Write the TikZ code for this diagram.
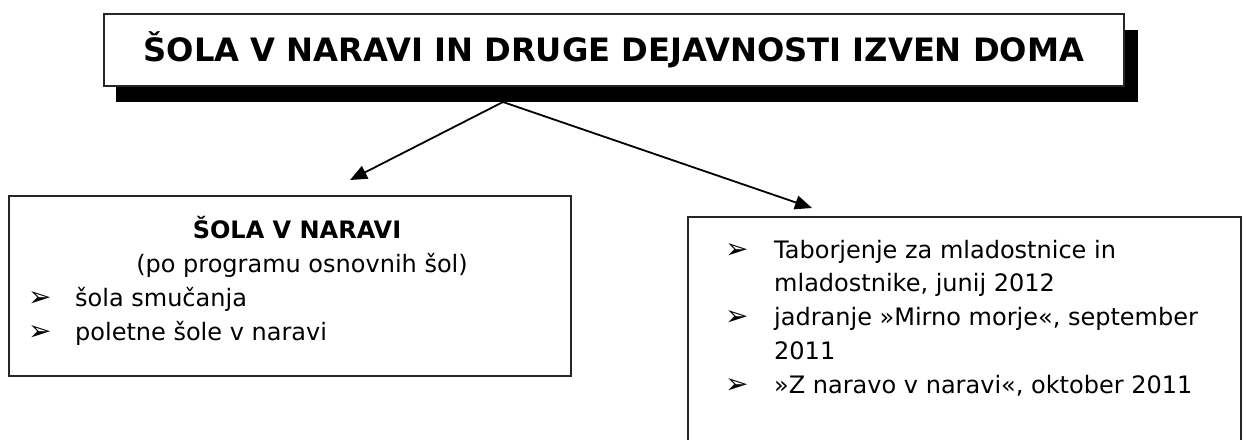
\documentclass[tikz,border=0pt]{standalone}
\usepackage{fontspec}
\setmainfont{DejaVu Sans}
\usetikzlibrary{arrows.meta}
\begin{document}
\begin{tikzpicture}[x=1pt,y=-1pt,
  frame/.style={draw=black!85, line width=1.7pt, fill=white, inner sep=0pt, anchor=north west},
  body/.style={font=\fontsize{24}{28}\selectfont, inner sep=0pt, anchor=base west},
  bul/.style={font=\fontsize{28}{30}\selectfont, inner sep=0pt, anchor=base west},
  conn/.style={line width=1.8pt, -{Triangle[length=17pt,width=14pt]}}]
\useasboundingbox (0,0) rectangle (1249,439);
% title with shadow
\fill (116,30) rectangle (1138,102);
\node[frame, minimum width=1020pt, minimum height=72pt] (title) at (103,13) {};
\node[font=\fontsize{32.2}{34}\selectfont\bfseries, inner sep=0pt] (ttext) at (title.center) {ŠOLA V NARAVI IN DRUGE DEJAVNOSTI IZVEN DOMA};
\coordinate (start) at (503,102);
% left box
\node[frame, minimum width=562pt, minimum height=180pt] (left) at (8,195) {};
\node[font=\fontsize{24}{28}\selectfont\bfseries, inner sep=0pt, anchor=base] (lt) at (297,238) {ŠOLA V NARAVI};
\node[font=\fontsize{24}{28}\selectfont, inner sep=0pt, anchor=base] (ls) at (302,272) {(po programu osnovnih šol)};
\node[bul] (lb1) at (28,306) {➢};
\node[body] (l1) at (75,306) {šola smučanja};
\node[bul] (lb2) at (28,340) {➢};
\node[body] (l2) at (75,340) {poletne šole v naravi};
% right box
\node[frame, minimum width=553pt, minimum height=240pt] (right) at (687,216) {};
\node[bul] (rb1) at (725,258) {➢};
\node[body] (r1) at (774,258) {Taborjenje za mladostnice in};
\node[body] (r1b) at (774,291) {mladostnike, junij 2012};
\node[bul] (rb2) at (725,325) {➢};
\node[body] (r2) at (774,325) {jadranje »Mirno morje«, september};
\node[body] (r2b) at (774,359) {2011};
\node[bul] (rb3) at (725,393) {➢};
\node[body] (r3) at (774,393) {»Z naravo v naravi«, oktober 2011};
% connectors
\coordinate (lend) at (350,180);
\coordinate (rend) at (812,208);
\draw[conn] (start) -- (lend);
\draw[conn] (start) -- (rend);
\end{tikzpicture}
\end{document}
